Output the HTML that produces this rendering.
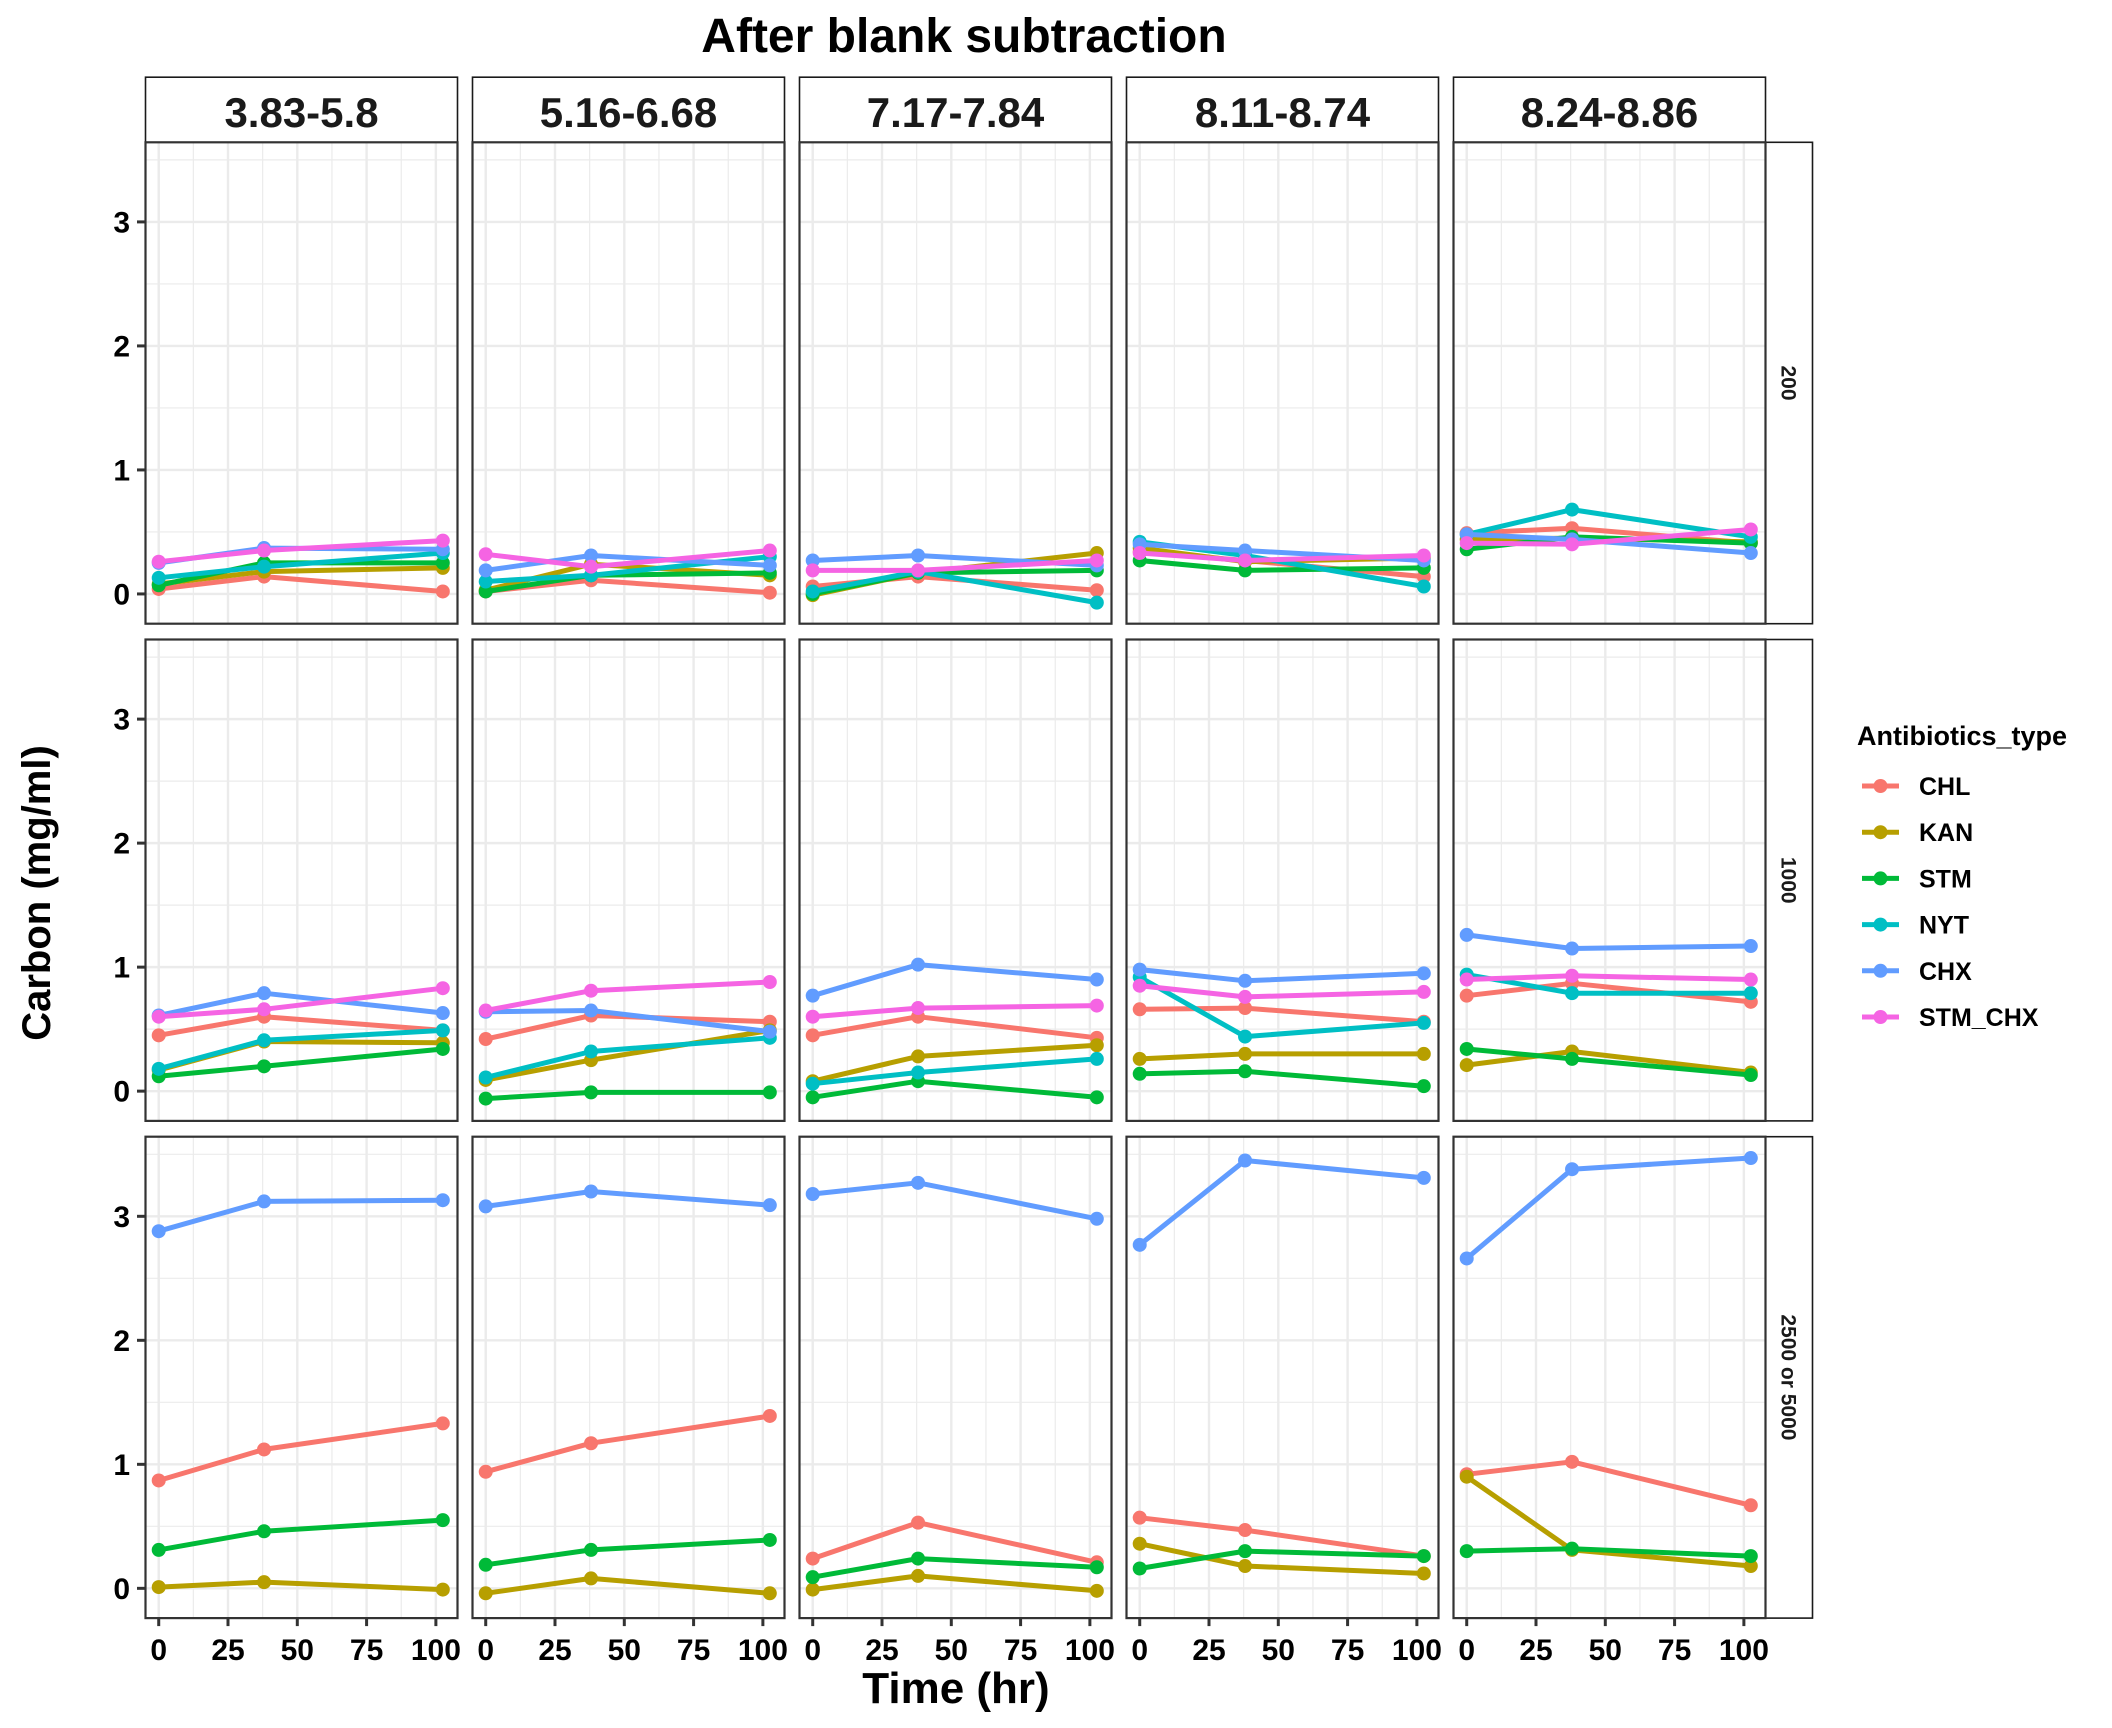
<!DOCTYPE html>
<html><head><meta charset="utf-8"><style>
html,body{margin:0;padding:0;background:#fff;}
svg{display:block;font-family:"Liberation Sans",sans-serif;}
</style></head><body>
<svg id="chart" width="2112" height="1728" viewBox="0 0 2112 1728" xmlns="http://www.w3.org/2000/svg">
<text x="964" y="52" font-size="48" font-weight="bold" text-anchor="middle">After blank subtraction</text>
<text transform="translate(50,893) rotate(-90)" font-size="40" font-weight="bold" text-anchor="middle">Carbon (mg/ml)</text>
<text x="956" y="1703" font-size="44" font-weight="bold" text-anchor="middle">Time (hr)</text>
<g id="panels"></g>
<g id="legend"></g>
</svg>
<script>
const times = [0, 38, 102.5];
const colLabels = ["3.83-5.8", "5.16-6.68", "7.17-7.84", "8.11-8.74", "8.24-8.86"];
const rowLabels = ["200", "1000", "2500 or 5000"];
const seriesNames = ["CHL", "KAN", "STM", "NYT", "CHX", "STM_CHX"];
const yTicks = [0, 1, 2, 3];
const xTicks = [0, 25, 50, 75, 100];
// values[row][col] = [t0, t1, t2]
const CHL = [
  [[0.04,0.14,0.02],[0.02,0.11,0.01],[0.06,0.14,0.03],[0.34,0.27,0.14],[0.49,0.53,0.41]],
  [[0.45,0.60,0.49],[0.42,0.61,0.56],[0.45,0.60,0.43],[0.66,0.67,0.56],[0.77,0.87,0.72]],
  [[0.87,1.12,1.33],[0.94,1.17,1.39],[0.24,0.53,0.21],[0.57,0.47,0.26],[0.92,1.02,0.67]]
];
const KAN = [
  [[0.08,0.18,0.21],[0.03,0.24,0.15],[-0.01,0.17,0.33],[0.37,0.26,0.29],[0.44,0.45,0.42]],
  [[0.17,0.40,0.39],[0.09,0.25,0.49],[0.08,0.28,0.37],[0.26,0.30,0.30],[0.21,0.32,0.15]],
  [[0.01,0.05,-0.01],[-0.04,0.08,-0.04],[-0.01,0.10,-0.02],[0.36,0.18,0.12],[0.90,0.31,0.18]]
];
const STM = [
  [[0.07,0.25,0.25],[0.02,0.15,0.17],[0.00,0.17,0.19],[0.27,0.19,0.21],[0.36,0.46,0.41]],
  [[0.12,0.20,0.34],[-0.06,-0.01,-0.01],[-0.05,0.08,-0.05],[0.14,0.16,0.04],[0.34,0.26,0.13]],
  [[0.31,0.46,0.55],[0.19,0.31,0.39],[0.09,0.24,0.17],[0.16,0.30,0.26],[0.30,0.32,0.26]]
];
const NYT = [
  [[0.13,0.22,0.33],[0.10,0.15,0.30],[0.02,0.18,-0.07],[0.42,0.31,0.06],[0.48,0.68,0.46]],
  [[0.18,0.41,0.49],[0.11,0.32,0.43],[0.06,0.15,0.26],[0.92,0.44,0.55],[0.94,0.79,0.79]],
  [null,null,null,null,null]
];
const CHX = [
  [[0.25,0.37,0.36],[0.19,0.31,0.23],[0.27,0.31,0.23],[0.40,0.35,0.27],[0.48,0.44,0.33]],
  [[0.61,0.79,0.63],[0.64,0.65,0.48],[0.77,1.02,0.90],[0.98,0.89,0.95],[1.26,1.15,1.17]],
  [[2.88,3.12,3.13],[3.08,3.20,3.09],[3.18,3.27,2.98],[2.77,3.45,3.31],[2.66,3.38,3.47]]
];
const STM_CHX = [
  [[0.26,0.35,0.43],[0.32,0.22,0.35],[0.19,0.19,0.27],[0.33,0.27,0.31],[0.41,0.40,0.52]],
  [[0.60,0.66,0.83],[0.65,0.81,0.88],[0.60,0.67,0.69],[0.85,0.76,0.80],[0.90,0.93,0.90]],
  [null,null,null,null,null]
];
const seriesData = [CHL, KAN, STM, NYT, CHX, STM_CHX];
const colors = ["#F8766D","#B79F00","#00BA38","#00BFC4","#619CFF","#F564E3"];

const NS = "http://www.w3.org/2000/svg";
const L0 = 145.5, PW = 312, PITCH = 327, T0 = 142.3, PH = 481.4, VP = 497.2;
const YMIN = -0.240, YMAX = 3.642, XMIN = -4.77, XMAX = 107.8;
function mk(tag, attrs, parent){ const e=document.createElementNS(NS,tag); for(const k in attrs) e.setAttribute(k,attrs[k]); parent.appendChild(e); return e; }
function xs(c, v){ return L0 + c*PITCH + (v - XMIN)/(XMAX - XMIN)*PW; }
function ys(r, v){ return T0 + r*VP + (YMAX - v)/(YMAX - YMIN)*PH; }

const root = document.getElementById('panels');
for (let c=0;c<5;c++){
  const x0 = L0 + c*PITCH;
  const st = mk('g',{},root);
  
  
  mk('rect',{x:x0,y:77.2,width:PW,height:T0-77.2,fill:'#fff',stroke:'#1a1a1a','stroke-width':1.6},st);
  const t = mk('text',{x:x0+PW/2,y:127,'font-size':42,'font-weight':'bold','text-anchor':'middle',fill:'#1a1a1a'},st);
  t.textContent = colLabels[c];
}
for (let r=0;r<3;r++){
  const y0 = T0 + r*VP;
  const rs = mk('g',{},root);
  
  
  const sx = L0 + 4*PITCH + PW;
  mk('rect',{x:sx,y:y0,width:47,height:PH,fill:'#fff',stroke:'#1a1a1a','stroke-width':1.6},rs);
  const rt = mk('text',{transform:`translate(${sx+16},${y0+PH/2}) rotate(90)`,'font-size':21,'font-weight':'bold','text-anchor':'middle',fill:'#1a1a1a'},rs);
  rt.textContent = rowLabels[r];
  // y axis labels
  const ya = mk('g',{},root);
  
  
  yTicks.forEach(v=>{
    const yy = ys(r,v);
    mk('line',{x1:137,x2:L0,y1:yy,y2:yy,stroke:'#333','stroke-width':3},ya);
    const tl = mk('text',{x:130,y:yy+10.5,'font-size':30,'font-weight':'bold','text-anchor':'end'},ya);
    tl.textContent = v;
  });
  for (let c=0;c<5;c++){
    const x0 = L0 + c*PITCH;
    const p = mk('g',{},root);
    
    
    mk('rect',{x:x0,y:y0,width:PW,height:PH,fill:'#fff'},p);
    [0.5,1.5,2.5,3.5].forEach(v=>{ const yy=ys(r,v); mk('line',{x1:x0,x2:x0+PW,y1:yy,y2:yy,stroke:'#EBEBEB','stroke-width':1.2},p); });
    [12.5,37.5,62.5,87.5].forEach(v=>{ const xx=xs(c,v); mk('line',{x1:xx,x2:xx,y1:y0,y2:y0+PH,stroke:'#EBEBEB','stroke-width':1.2},p); });
    yTicks.forEach(v=>{ const yy=ys(r,v); mk('line',{x1:x0,x2:x0+PW,y1:yy,y2:yy,stroke:'#EBEBEB','stroke-width':2.4},p); });
    xTicks.forEach(v=>{ const xx=xs(c,v); mk('line',{x1:xx,x2:xx,y1:y0,y2:y0+PH,stroke:'#EBEBEB','stroke-width':2.4},p); });
    seriesData.forEach((S,si)=>{
      const vals = S[r][c];
      if(!vals) return;
      const g = mk('g',{},p);
      
      
      const pts = vals.map((v,i)=>xs(c,times[i]).toFixed(1)+','+ys(r,v).toFixed(1)).join(' ');
      mk('polyline',{points:pts,fill:'none',stroke:colors[si],'stroke-width':5,'stroke-linejoin':'round'},g);
      vals.forEach((v,i)=>{
        const pt = mk('circle',{cx:xs(c,times[i]),cy:ys(r,v),r:7,fill:colors[si]},g);
        
        
      });
    });
    mk('rect',{x:x0,y:y0,width:PW,height:PH,fill:'none',stroke:'#333','stroke-width':2.2},p);
    if (r===2){
      const xa = mk('g',{},root);
      
      
      xTicks.forEach(v=>{
        const xx = xs(c,v);
        mk('line',{x1:xx,x2:xx,y1:y0+PH,y2:y0+PH+8,stroke:'#333','stroke-width':3},xa);
        const tl = mk('text',{x:xx,y:1660,'font-size':30,'font-weight':'bold','text-anchor':'middle'},xa);
        tl.textContent = v;
      });
    }
  }
}
const lg = document.getElementById('legend');
const lt = mk('text',{x:1857,y:745,'font-size':27,'font-weight':'bold'},lg);
lt.textContent = 'Antibiotics_type';
seriesNames.forEach((n,i)=>{
  const yy = 786 + i*46.2;
  const e = mk('g',{},lg);
  
  
  mk('line',{x1:1862,x2:1899,y1:yy,y2:yy,stroke:colors[i],'stroke-width':5},e);
  mk('circle',{cx:1880.5,cy:yy,r:7,fill:colors[i]},e);
  const t = mk('text',{x:1919,y:yy+9,'font-size':25,'font-weight':'bold'},e);
  t.textContent = n;
});
</script>
</body></html>
